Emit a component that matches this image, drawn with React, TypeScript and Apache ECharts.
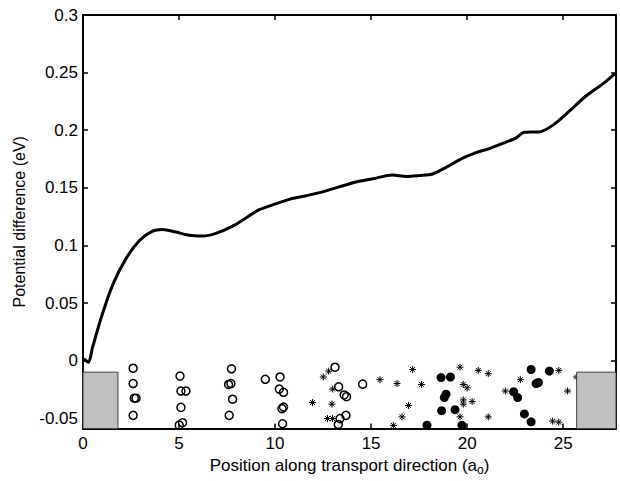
import React, { useEffect, useRef } from "react";
import * as echarts from "echarts";

const X_MIN = 0;
const X_MAX = 27.75;
const Y_MIN = -0.059;
const Y_MAX = 0.3;

const xTicks = [0, 5, 10, 15, 20, 25];
const yTicks = [-0.05, 0, 0.05, 0.1, 0.15, 0.2, 0.25, 0.3];

const curveX = [0.08, 0.28, 0.5, 1.0, 1.54, 2.23, 2.93, 3.62, 4.14, 4.84, 5.53, 6.22, 6.92, 7.79, 8.66, 9.18, 9.87, 10.74, 11.61, 12.47, 13.34, 14.21, 15.08, 16.12, 16.82, 17.51, 18.2, 18.9, 19.77, 20.46, 21.16, 22.03, 22.55, 22.98, 23.76, 24.45, 25.32, 26.19, 27.06, 27.67];
const curveY = [0.001, -0.0015, 0.0117, 0.04, 0.0656, 0.0883, 0.104, 0.1124, 0.1139, 0.1116, 0.1088, 0.1082, 0.1105, 0.1167, 0.1258, 0.131, 0.1352, 0.14, 0.1431, 0.1465, 0.1508, 0.155, 0.1578, 0.1612, 0.1599, 0.1607, 0.162, 0.1678, 0.1757, 0.1806, 0.184, 0.1897, 0.1934, 0.1982, 0.1985, 0.2042, 0.2166, 0.2297, 0.2402, 0.2487];

const openCircles: [number, number][] = [
  [2.61, -0.0066], [2.61, -0.0199], [2.67, -0.0326], [2.76, -0.0326], [2.61, -0.0475],
  [5.05, -0.0134], [5.1, -0.0264], [5.36, -0.0264], [5.1, -0.0406], [5.18, -0.0539], [5.01, -0.056],
  [7.73, -0.0071], [7.58, -0.0207], [7.7, -0.0199], [7.79, -0.0335], [7.61, -0.0475],
  [9.49, -0.0162], [10.26, -0.0142], [10.22, -0.0247], [10.44, -0.0275], [10.36, -0.0417], [10.44, -0.0403], [10.39, -0.0548],
  [13.12, -0.0057], [13.31, -0.0227], [13.6, -0.0298], [13.72, -0.0313], [14.56, -0.0204],
  [13.38, -0.0503], [13.69, -0.0475], [13.29, -0.0554],
];

const stars: [number, number][] = [
  [12.79, -0.0091], [12.51, -0.0142], [13.0, -0.0247], [11.95, -0.0364], [12.96, -0.0378], [12.73, -0.0503], [12.99, -0.0503],
  [15.46, -0.0165], [16.35, -0.0199], [17.16, -0.0077], [17.63, -0.0207], [16.95, -0.0389], [16.61, -0.0488], [16.16, -0.0562],
  [19.63, -0.0057], [20.58, -0.0085], [21.1, -0.0113], [19.8, -0.0207], [20.0, -0.0236], [19.8, -0.0341], [19.8, -0.0378],
  [20.26, -0.0355], [19.63, -0.0488], [21.1, -0.0488],
  [24.77, -0.0085], [22.77, -0.0165], [21.99, -0.0264], [25.23, -0.0264], [24.45, -0.0525], [24.77, -0.0534], [25.7, -0.0142],
];

const filledCircles: [number, number][] = [
  [18.64, -0.0147], [19.13, -0.0142], [18.9, -0.0292], [18.81, -0.0321], [18.67, -0.0434], [19.37, -0.0426],
  [17.91, -0.056], [19.73, -0.0562],
  [23.33, -0.0077], [24.28, -0.0091], [23.59, -0.0199], [23.71, -0.019], [22.42, -0.027], [22.63, -0.0321],
  [22.98, -0.0463], [23.33, -0.0531],
];

// [x start, x end, top value]
const contactRegions: [number, number, number][] = [
  [0, 1.82, -0.01],
  [25.7, 27.75, -0.01],
];

const FONT = "'Liberation Sans', Arial, Helvetica, sans-serif";
const STAR = "path://M5 0L5 10M0 5L10 5M1.5 1.5L8.5 8.5M8.5 1.5L1.5 8.5";

export default function App() {
  const ref = useRef<HTMLDivElement>(null);
  useEffect(() => {
    if (!ref.current) return;
    const chart = echarts.init(ref.current, undefined, { renderer: "svg" });
    const tickStyle = { inside: true, length: 5, lineStyle: { color: "#000", width: 1.5 } };
    chart.setOption({
      animation: false,
      backgroundColor: "#fff",
      textStyle: { fontFamily: FONT },
      grid: { left: 83, right: 4, top: 15, bottom: 45, containLabel: false },
      xAxis: [
        {
          type: "value",
          min: X_MIN,
          max: X_MAX,
          position: "bottom",
          splitLine: { show: false },
          axisLine: { show: true, onZero: false, lineStyle: { color: "#000", width: 2 } },
          axisTick: { ...tickStyle, customValues: xTicks },
          axisLabel: { customValues: xTicks, color: "#000", fontSize: 17, margin: 6, fontFamily: FONT },
          name: "Position along transport direction (a{sub|o})",
          nameLocation: "middle",
          nameGap: 20,
          nameTextStyle: {
            color: "#000",
            fontSize: 17,
            fontFamily: FONT,
            rich: { sub: { fontSize: 12, padding: [10, 0, 0, 0], color: "#000", fontFamily: FONT } },
          },
        },
        {
          type: "value",
          min: X_MIN,
          max: X_MAX,
          position: "top",
          splitLine: { show: false },
          axisLine: { show: true, onZero: false, lineStyle: { color: "#000", width: 2 } },
          axisTick: { ...tickStyle, customValues: xTicks },
          axisLabel: { show: false },
        },
      ],
      yAxis: [
        {
          type: "value",
          min: Y_MIN,
          max: Y_MAX,
          position: "left",
          splitLine: { show: false },
          axisLine: { show: true, onZero: false, lineStyle: { color: "#000", width: 2 } },
          axisTick: { ...tickStyle, customValues: yTicks },
          axisLabel: {
            customValues: yTicks,
            color: "#000",
            fontSize: 17,
            margin: 5,
            fontFamily: FONT,
            formatter: (v: number) => String(Math.round(v * 1000) / 1000),
          },
          name: "Potential difference (eV)",
          nameLocation: "middle",
          nameGap: 56,
          nameTextStyle: { color: "#000", fontSize: 16, fontFamily: FONT },
        },
        {
          type: "value",
          min: Y_MIN,
          max: Y_MAX,
          position: "right",
          splitLine: { show: false },
          axisLine: { show: true, onZero: false, lineStyle: { color: "#000", width: 2 } },
          axisTick: { ...tickStyle, customValues: yTicks },
          axisLabel: { show: false },
        },
      ],
      series: [
        {
          type: "scatter",
          name: "open",
          data: openCircles,
          symbol: "circle",
          symbolSize: 8,
          itemStyle: { color: "rgba(0,0,0,0)", borderColor: "#000", borderWidth: 1.5, opacity: 1 },
          z: 3,
        },
        {
          type: "scatter",
          name: "star",
          data: stars,
          symbol: STAR,
          symbolSize: 7,
          itemStyle: { color: "rgba(0,0,0,0)", borderColor: "#000", borderWidth: 1, opacity: 1 },
          z: 3,
        },
        {
          type: "scatter",
          name: "filled",
          data: filledCircles,
          symbol: "circle",
          symbolSize: 9,
          itemStyle: { color: "#000", opacity: 1 },
          z: 3,
        },
        {
          type: "custom",
          name: "contacts",
          data: contactRegions,
          encode: { x: [0, 1], y: 2 },
          z: 5,
          renderItem: (_params: any, api: any) => {
            const p0 = api.coord([api.value(0), api.value(2)]);
            const p1 = api.coord([api.value(1), Y_MIN]);
            return {
              type: "rect",
              shape: { x: p0[0], y: p0[1], width: p1[0] - p0[0], height: p1[1] - p0[1] },
              style: { fill: "#c0c0c0", stroke: "#404040", lineWidth: 1 },
            };
          },
        },
        {
          type: "line",
          name: "potential",
          data: curveX.map((x, i) => [x, curveY[i]]),
          showSymbol: false,
          smooth: 0.3,
          lineStyle: { color: "#000", width: 3, join: "round", cap: "round" },
          z: 6,
        },
      ],
    });
    return () => chart.dispose();
  }, []);
  return (
    <div
      ref={ref}
      style={{ position: "fixed", left: 0, top: 0, width: 620, height: 481, background: "#fff" }}
    />
  );
}
